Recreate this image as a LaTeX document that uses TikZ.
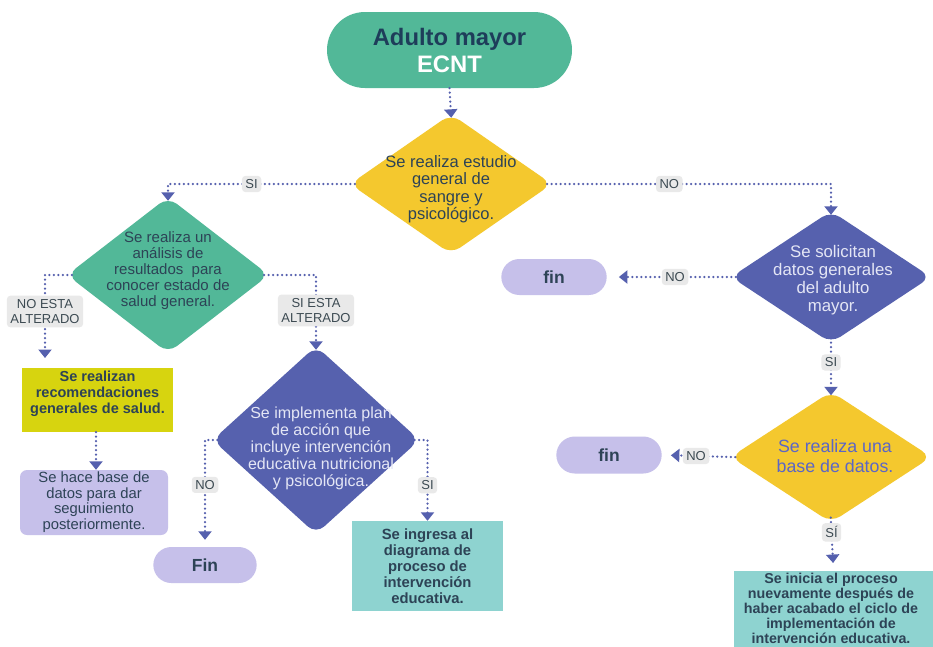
\documentclass[tikz,border=0pt]{standalone}
\usepackage{fontspec}
\setmainfont{Liberation Sans}
\usetikzlibrary{shapes.geometric,shapes.misc,arrows.meta,calc}
\definecolor{cgreen}{HTML}{52B898}
\definecolor{cyel}{HTML}{F4C82E}
\definecolor{cpurp}{HTML}{5661AE}
\definecolor{clav}{HTML}{C6C0EA}
\definecolor{clime}{HTML}{D7D40F}
\definecolor{cteal}{HTML}{8ED3D0}
\definecolor{cdot}{HTML}{5560AE}
\definecolor{clbl}{HTML}{E9E9E9}
\definecolor{cdark}{HTML}{2D4356}
\definecolor{cnavy}{HTML}{1E3D5A}
\definecolor{clight}{HTML}{E4E6F5}
\definecolor{cblue}{HTML}{5B66C6}
\definecolor{clbltxt}{HTML}{3C4A52}
\begin{document}
\begin{tikzpicture}[x=1pt,y=-1pt,
  dia/.style={shape=diamond, inner sep=0pt, rounded corners=11pt, draw=none},
  dtext/.style={align=center, inner sep=0pt},
  conn/.style={draw=cdot, line width=2.5pt, dash pattern=on 0pt off 4.5pt, line cap=round,
     -{Triangle[width=13pt,length=8.5pt,line cap=butt]}},
  fromtip/.style={shorten <=-5pt},
  totip/.style={shorten >=-4pt},
  lbl/.style={fill=clbl, rounded corners=3.5pt, text=clbltxt, font=\fontsize{13}{15.5}\selectfont,
     inner sep=3.5pt, align=center},
  pill/.style={shape=rounded rectangle, fill=clav, draw=none, text=cdark,
     font=\fontsize{17.5}{20}\selectfont\bfseries},
  boxtext/.style={align=center, text=cdark, inner sep=0pt}
]
\useasboundingbox (0,0) rectangle (933,646);
\fill[white] (0,0) rectangle (933,646);

% top terminal
\node[shape=rounded rectangle, fill=cgreen, minimum width=245pt, minimum height=76pt, inner sep=0pt,
      align=center, font=\fontsize{23.8}{27}\selectfont\bfseries] (start) at (449.5,50)
      {\textcolor{cnavy}{Adulto mayor}\\\textcolor{white}{ECNT}};

% diamonds
\node[dia, fill=cyel, minimum width=202pt, minimum height=140pt] (d1) at (451,184) {};
\node[dtext, text=cdark, font=\fontsize{16.5}{17.5}\selectfont] (d1t) at (451,189) {Se realiza estudio\\general de\\sangre y\\psicológico.};

\node[dia, fill=cgreen, minimum width=202pt, minimum height=156pt] (d2) at (168,275) {};
\node[dtext, text=cdark, font=\fontsize{15}{16}\selectfont] (d2t) at (168,271) {Se realiza un\\análisis de\\resultados\ \ para\\conocer estado de\\salud general.};

\node[dia, fill=cpurp, minimum width=207pt, minimum height=188pt] (d4) at (316,440) {};
\node[dtext, text=clight, font=\fontsize{16}{17}\selectfont] (d4t) at (321,448) {Se implementa plan\\de acción que\\incluye intervención\\educativa nutricional\\y psicológica.};

\node[dia, fill=cpurp, minimum width=200pt, minimum height=132pt] (d3) at (831,277) {};
\node[dtext, text=clight, font=\fontsize{16.8}{18}\selectfont] (d3t) at (833,280) {Se solicitan\\datos generales\\del adulto\\mayor.};

\node[dia, fill=cyel, minimum width=201pt, minimum height=131pt] (d5) at (831,457) {};
\node[dtext, text=cblue, font=\fontsize{17.8}{19.5}\selectfont] (d5t) at (835,456) {Se realiza una\\base de datos.};

% boxes
\node[fill=clime, minimum width=151pt, minimum height=64pt, inner sep=0pt] (rec) at (97.5,400) {};
\node[boxtext, font=\fontsize{14.5}{16}\selectfont\bfseries] (rect) at (97.5,394) {Se realizan\\recomendaciones\\generales de salud.};

\node[fill=clav, rounded corners=7pt, minimum width=148pt, minimum height=65pt, inner sep=0pt] (db) at (94,502.5) {};
\node[dtext, text=cdark, font=\fontsize{14.8}{15.5}\selectfont] (dbt) at (94,502) {Se hace base de\\datos para dar\\seguimiento\\posteriormente.};

\node[fill=cteal, minimum width=151pt, minimum height=90pt, inner sep=0pt] (ing) at (427.5,566) {};
\node[boxtext, font=\fontsize{14.8}{16}\selectfont\bfseries] (ingt) at (427.5,566) {Se ingresa al\\diagrama de\\proceso de\\intervención\\educativa.};

\node[fill=cteal, minimum width=199pt, minimum height=90pt, inner sep=0pt, anchor=north] (ini) at (833.5,571) {};
\node[boxtext, anchor=north, font=\fontsize{14.3}{15}\selectfont\bfseries] (init) at (831,573) {Se inicia el proceso\\nuevamente después de\\haber acabado el ciclo de\\implementación de\\intervención educativa.};

% pills
\node[pill, minimum width=110pt, minimum height=36pt] (fin1) at (205,565) {Fin};
\node[pill, minimum width=112pt, minimum height=36pt] (fin2) at (554,277) {fin};
\node[pill, minimum width=112pt, minimum height=37pt] (fin3) at (609,455) {fin};

% connectors
\draw[conn, totip] (start.south) -- (d1.north);
\draw[conn, fromtip, totip] (d1.west) -| node[lbl, pos=0.27] {SI} (d2.north);
\draw[conn, fromtip, totip] (d1.east) -| node[lbl, pos=0.21] {NO} (d3.north);
\coordinate (e1) at (45,358);
\draw[conn, fromtip] (d2.west) -| node[lbl, pos=0.72] {NO ESTA\\ALTERADO} (e1);
\draw[conn, fromtip, totip] (d2.east) -| node[lbl, pos=0.75] {SI ESTA\\ALTERADO} (d4.north);
\draw[conn] ([xshift=-1.5pt]rec.south) -- ([xshift=-1.5pt]rec.south |- db.north);
\draw[conn, fromtip, shorten >=7pt] (d4.west) -| node[lbl, pos=0.71] {NO} (fin1.north);
\draw[conn, fromtip] (d4.east) -| node[lbl, pos=0.78] {SI} (ing.north);
\draw[conn, fromtip, shorten >=12pt] (d3.west) -- node[lbl, pos=0.45] {NO} (fin2.east);
\draw[conn, fromtip, totip] (d3.south) -- node[lbl, pos=0.4] {SI} (d5.north);
\draw[conn, fromtip, shorten >=9pt] (d5.west) -- node[lbl, pos=0.5] {NO} (fin3.east);
\draw[conn, fromtip, shorten >=8pt] (d5.south) -- node[lbl, pos=0.2] {SÍ} (ini.north);
\end{tikzpicture}
\end{document}
